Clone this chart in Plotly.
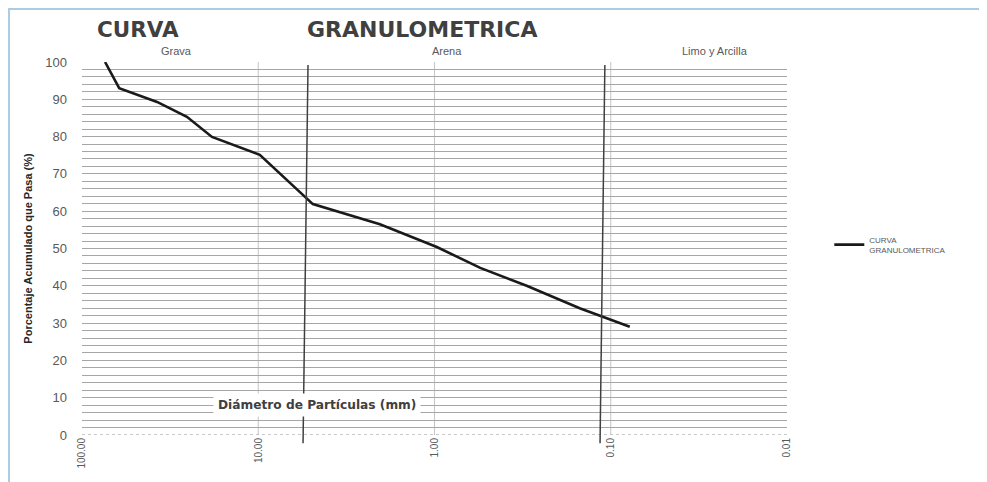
import math
import plotly.graph_objects as go

# Curve data
diametro_mm = [74.0, 61.5, 37.5, 25.4, 18.3, 9.8, 4.9, 2.04, 0.97, 0.55, 0.30, 0.15, 0.078]
pasa_pct = [100.0, 93.0, 89.3, 85.3, 79.9, 75.1, 61.9, 56.5, 50.4, 44.8, 40.0, 34.0, 29.0]

# Boundary lines between soil classes: [diameter at top, diameter at bottom] (slightly slanted)
limite_grava_arena = [5.22, 5.57]
limite_arena_limo = [0.108, 0.115]
decadas_grid = [10, 1, 0.1]

x_tickvals = [100, 10, 1, 0.1, 0.01]
x_ticktext = ["100.00", "10.00", "1.00", "0.10", "0.01"]
y_tickvals = [0, 10, 20, 30, 40, 50, 60, 70, 80, 90, 100]

zonas = ["Grava", "Arena", "Limo y Arcilla"]
zonas_x = [29.2, 0.85, 0.0257]

GRAY_TXT = "#595959"
GRID = "#a6a6a6"

fig = go.Figure()
fig.add_trace(go.Scatter(
    x=diametro_mm, y=pasa_pct, mode="lines",
    line=dict(color="#1a1a1a", width=2.6),
    name="CURVA<br>GRANULOMETRICA",
))

shapes = []
# light frame around the chart image
shapes.append(dict(type="rect", xref="paper", yref="paper",
                   x0=-0.1035, x1=1.5, y0=-0.2, y1=1.142,
                   line=dict(color="#a9cde3", width=2), fillcolor="rgba(0,0,0,0)", layer="below"))
# decade gridlines
for d in decadas_grid:
    shapes.append(dict(type="line", xref="x", yref="paper", x0=d, x1=d, y0=0, y1=1,
                       line=dict(color="#c4c4c4", width=1), layer="below"))
# dotted baseline
shapes.append(dict(type="line", xref="paper", yref="y", x0=0, x1=1, y0=0, y1=0,
                   line=dict(color="#b8b8b8", width=1.5, dash="dot")))
# class boundary lines
for top, bot in [limite_grava_arena, limite_arena_limo]:
    shapes.append(dict(type="line", xref="x", yref="paper",
                       x0=top, x1=bot, y0=0.992, y1=-0.022,
                       line=dict(color="#404040", width=1.5)))

annotations = [
    dict(text="<b>CURVA</b>", xref="paper", yref="paper", x=0.0794, y=1.086,
         xanchor="center", yanchor="middle", showarrow=False,
         font=dict(family="DejaVu Sans", size=21.5, color="#404040")),
    dict(text="<b>GRANULOMETRICA</b>", xref="paper", yref="paper", x=0.482, y=1.086,
         xanchor="center", yanchor="middle", showarrow=False,
         font=dict(family="DejaVu Sans", size=22, color="#404040")),
    dict(text="<b>Diámetro de Partículas (mm)</b>", xref="paper", yref="paper", x=0.333, y=0.080,
         xanchor="center", yanchor="middle", showarrow=False, bgcolor="white", borderpad=4,
         font=dict(family="DejaVu Sans", size=12.2, color="#404040")),
]
for z, zx in zip(zonas, zonas_x):
    annotations.append(dict(text=z, xref="x", yref="paper", x=math.log10(zx), y=1.030,
                            xanchor="center", yanchor="middle", showarrow=False,
                            font=dict(family="Liberation Sans", size=11, color=GRAY_TXT)))

fig.update_layout(
    width=979, height=474,
    margin=dict(l=74, r=200, t=54, b=47),
    paper_bgcolor="white", plot_bgcolor="white",
    shapes=shapes, annotations=annotations,
    showlegend=True,
    legend=dict(x=1.06, y=0.51, xanchor="left", yanchor="middle",
                font=dict(family="Liberation Sans", size=8, color=GRAY_TXT),
                bgcolor="rgba(0,0,0,0)"),
    xaxis=dict(type="log", range=[2, -2], tickvals=x_tickvals, ticktext=x_ticktext,
               tickangle=-90, showgrid=False, zeroline=False, showline=False,
               tickfont=dict(family="Liberation Sans", size=10, color=GRAY_TXT),
               ticks=""),
    yaxis=dict(range=[0, 100], tickvals=y_tickvals, showgrid=True, gridcolor=GRID, gridwidth=1.3,
               minor=dict(dtick=2, showgrid=True, gridcolor=GRID, gridwidth=1.3),
               zeroline=False, showline=False, ticks="", ticklabelstandoff=14,
               tickfont=dict(family="Liberation Sans", size=13, color=GRAY_TXT),
               title=dict(text="<b>Porcentaje Acumulado que Pasa (%)</b>", standoff=10,
                          font=dict(family="Liberation Sans", size=11, color="#262626"))),
)

fig.write_html("out.html")
